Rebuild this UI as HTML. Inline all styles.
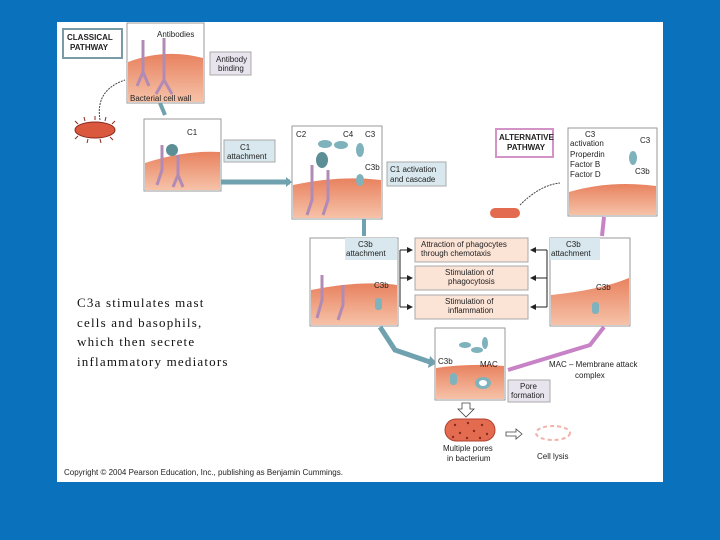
<!DOCTYPE html>
<html><head><meta charset="utf-8"><style>
body{margin:0;width:720px;height:540px;background:#0a72bd;overflow:hidden;position:relative}
svg{position:absolute;left:0;top:0}
.s{font-family:"Liberation Sans",sans-serif;font-size:8px;fill:#222}
</style></head><body>
<svg width="720" height="540" viewBox="0 0 720 540">
<defs>
<linearGradient id="cell" x1="0" y1="0" x2="0" y2="1"><stop offset="0" stop-color="#e8825f"/><stop offset="1" stop-color="#f6c2a8"/></linearGradient>
<marker id="ah" markerWidth="6" markerHeight="6" refX="5" refY="3" orient="auto"><path d="M0,0L6,3L0,6z" fill="#222"/></marker>
</defs>
<rect x="57" y="22" width="606" height="460" fill="#fff"/>
<rect x="63" y="29" width="59" height="29" fill="#fff" stroke="#7a9aa6" stroke-width="2"/>
<text x="67" y="40" class="s" font-weight="bold" font-size="7">CLASSICAL</text>
<text x="70" y="50" class="s" font-weight="bold" font-size="7">PATHWAY</text>
<rect x="127" y="23" width="77" height="80" fill="#fff" stroke="#999"/>
<path d="M128,62 Q165,48 203,58 L203,102 L128,102z" fill="url(#cell)"/>
<path d="M143,40v32l-6,14M143,72l6,14M164,38v42l-8,14M164,80l8,14" stroke="#b18bb5" stroke-width="3" fill="none"/>
<text x="157" y="37" class="s">Antibodies</text>
<text x="130" y="101" class="s">Bacterial cell wall</text>
<rect x="210" y="52" width="41" height="23" fill="#e8e4ee" stroke="#aaa"/>
<text x="216" y="62" class="s">Antibody</text><text x="218" y="71" class="s">binding</text>
<ellipse cx="95" cy="130" rx="20" ry="8" fill="#d9583e" stroke="#8a2a20"/>
<path d="M78,124l-3,-3M85,121l-1,-4M95,120v-4M105,121l1,-4M112,124l3,-3M78,136l-3,3M88,139l-1,4M100,139l1,4M110,137l3,3" stroke="#8a2a20"/>
<path d="M100,120 Q95,90 125,80" stroke="#444" fill="none" stroke-dasharray="2,1"/>
<path d="M160,103 L165,115" stroke="#6fa2ae" stroke-width="4"/>
<rect x="144" y="119" width="77" height="72" fill="#fff" stroke="#999"/>
<path d="M145,163 Q185,150 220,152 L220,190 L145,190z" fill="url(#cell)"/>
<path d="M162,145v25l-5,15M178,155v20l-5,12M178,175l5,12" stroke="#b18bb5" stroke-width="3" fill="none"/>
<circle cx="172" cy="150" r="6" fill="#5c8e96"/>
<text x="187" y="135" class="s">C1</text>
<rect x="224" y="140" width="51" height="22" fill="#d8e8ee" stroke="#aaa"/>
<text x="240" y="150" class="s">C1</text><text x="227" y="159" class="s">attachment</text>
<path d="M221,182 L290,182" stroke="#6fa2ae" stroke-width="5"/>
<path d="M286,177 L292,182 L286,187z" fill="#6fa2ae"/>
<rect x="292" y="126" width="90" height="93" fill="#fff" stroke="#999"/>
<path d="M293,185 Q340,175 381,180 L381,218 L293,218z" fill="url(#cell)"/>
<path d="M312,165v35l-5,15M328,170v30l-5,15" stroke="#b18bb5" stroke-width="3" fill="none"/>
<ellipse cx="322" cy="160" rx="6" ry="8" fill="#5c8e96"/>
<ellipse cx="325" cy="144" rx="7" ry="4" fill="#7eb2bc"/><ellipse cx="341" cy="145" rx="7" ry="4" fill="#7eb2bc"/><ellipse cx="360" cy="150" rx="4" ry="7" fill="#7eb2bc"/><ellipse cx="360" cy="180" rx="4" ry="6" fill="#7eb2bc"/>
<text x="296" y="137" class="s">C2</text><text x="343" y="137" class="s">C4</text><text x="365" y="137" class="s">C3</text><text x="365" y="170" class="s">C3b</text>
<rect x="387" y="162" width="59" height="24" fill="#d8e8ee" stroke="#aaa"/>
<text x="390" y="172" class="s">C1 activation</text><text x="390" y="182" class="s">and cascade</text>
<path d="M364,219 L364,236" stroke="#6fa2ae" stroke-width="4"/>
<rect x="496" y="129" width="57" height="28" fill="#fff" stroke="#d493c8" stroke-width="2"/>
<text x="499" y="140" class="s" font-weight="bold" font-size="7">ALTERNATIVE</text>
<text x="507" y="150" class="s" font-weight="bold" font-size="7">PATHWAY</text>
<rect x="568" y="128" width="89" height="88" fill="#fff" stroke="#999"/>
<path d="M569,192 Q610,180 656,186 L656,215 L569,215z" fill="url(#cell)"/>
<text x="585" y="137" class="s">C3</text><text x="570" y="146" class="s">activation</text><text x="570" y="157" class="s">Properdin</text><text x="570" y="167" class="s">Factor B</text><text x="570" y="177" class="s">Factor D</text>
<text x="640" y="143" class="s">C3</text><text x="635" y="174" class="s">C3b</text>
<ellipse cx="633" cy="158" rx="4" ry="7" fill="#7eb2bc"/>
<rect x="490" y="208" width="30" height="10" rx="5" fill="#e36b4f"/>
<path d="M520,205 Q540,185 560,183" stroke="#444" fill="none" stroke-dasharray="2,1"/>
<path d="M604,217 L602,236" stroke="#c783c6" stroke-width="4"/>
<rect x="310" y="238" width="88" height="88" fill="#fff" stroke="#999"/>
<path d="M311,290 Q360,280 397,285 L397,325 L311,325z" fill="url(#cell)"/>
<path d="M322,275v25l-5,18M343,285v20l-5,15" stroke="#b18bb5" stroke-width="3" fill="none"/>
<rect x="375" y="298" width="7" height="12" rx="3" fill="#7eb2bc"/>
<rect x="345" y="238" width="52" height="22" fill="#d8e8ee"/>
<text x="358" y="247" class="s">C3b</text><text x="346" y="256" class="s">attachment</text>
<text x="374" y="288" class="s">C3b</text>
<rect x="550" y="238" width="80" height="88" fill="#fff" stroke="#999"/>
<path d="M551,295 Q600,290 629,278 L629,325 L551,325z" fill="url(#cell)"/>
<rect x="550" y="238" width="50" height="22" fill="#d8e8ee"/>
<text x="566" y="247" class="s">C3b</text><text x="551" y="256" class="s">attachment</text>
<text x="596" y="290" class="s">C3b</text>
<rect x="592" y="302" width="7" height="12" rx="3" fill="#7eb2bc"/>
<g fill="#fbe3d6" stroke="#aaa">
<rect x="415" y="238" width="113" height="24"/><rect x="415" y="266" width="113" height="24"/><rect x="415" y="295" width="113" height="24"/></g>
<text x="421" y="247" class="s">Attraction of phagocytes</text><text x="421" y="256" class="s">through chemotaxis</text>
<text x="445" y="275" class="s">Stimulation of</text><text x="448" y="284" class="s">phagocytosis</text>
<text x="445" y="304" class="s">Stimulation of</text><text x="448" y="313" class="s">inflammation</text>
<g stroke="#222" fill="none">
<path d="M400,250V307"/><path d="M547,250V307"/>
<path d="M400,250h12" marker-end="url(#ah)"/><path d="M400,278h12" marker-end="url(#ah)"/><path d="M400,307h12" marker-end="url(#ah)"/>
<path d="M547,250h-16" marker-end="url(#ah)"/><path d="M547,278h-16" marker-end="url(#ah)"/><path d="M547,307h-16" marker-end="url(#ah)"/>
</g>
<path d="M380,327 L395,350 L430,362" stroke="#6fa2ae" stroke-width="5" fill="none"/>
<path d="M430,356 L437,363 L428,368z" fill="#6fa2ae"/>
<path d="M604,327 L590,345 L508,370" stroke="#c783c6" stroke-width="4" fill="none"/>
<rect x="435" y="328" width="70" height="72" fill="#fff" stroke="#999"/>
<path d="M436,368 Q470,363 504,366 L504,399 L436,399z" fill="url(#cell)"/>
<ellipse cx="483" cy="383" rx="8" ry="6" fill="#7eb2bc"/><ellipse cx="483" cy="383" rx="4" ry="3" fill="#fff"/>
<rect x="450" y="373" width="7" height="12" rx="3" fill="#7eb2bc"/>
<ellipse cx="465" cy="345" rx="6" ry="3" fill="#7eb2bc"/><ellipse cx="477" cy="350" rx="6" ry="3" fill="#7eb2bc"/><ellipse cx="485" cy="343" rx="3" ry="6" fill="#7eb2bc"/>
<text x="438" y="364" class="s">C3b</text><text x="480" y="367" class="s">MAC</text>
<rect x="508" y="380" width="42" height="22" fill="#e8e4ee" stroke="#aaa"/>
<text x="520" y="389" class="s">Pore</text><text x="511" y="398" class="s">formation</text>
<text x="549" y="367" class="s">MAC – Membrane attack</text><text x="575" y="378" class="s">complex</text>
<path d="M462,403h8v6h4l-8,8l-8,-8h4z" fill="#fff" stroke="#444" stroke-width="0.8"/>
<rect x="445" y="419" width="50" height="22" rx="11" fill="#e36b4f" stroke="#b04030"/>
<g fill="#8a2a20"><circle cx="455" cy="425" r="1.2"/><circle cx="468" cy="423" r="1.2"/><circle cx="482" cy="425" r="1.2"/><circle cx="460" cy="433" r="1.2"/><circle cx="474" cy="431" r="1.2"/><circle cx="487" cy="434" r="1.2"/><circle cx="453" cy="437" r="1.2"/><circle cx="467" cy="438" r="1.2"/><circle cx="480" cy="438" r="1.2"/></g>
<path d="M506,432h10v-3l6,5l-6,5v-3h-10z" fill="#fff" stroke="#444" stroke-width="0.8"/>
<ellipse cx="553" cy="433" rx="17" ry="7" fill="none" stroke="#f0b3aa" stroke-width="2" stroke-dasharray="4,3"/>
<text x="443" y="451" class="s">Multiple pores</text><text x="447" y="461" class="s">in bacterium</text>
<text x="537" y="459" class="s">Cell lysis</text>
<text x="64" y="475" class="s" font-size="6">Copyright © 2004 Pearson Education, Inc., publishing as Benjamin Cummings.</text>
<g font-family="Liberation Serif,serif" font-size="13" fill="#111" letter-spacing="1.2">
<text x="77" y="307">C3a stimulates mast</text><text x="77" y="327">cells and basophils,</text><text x="77" y="346">which then secrete</text><text x="77" y="366">inflammatory mediators</text></g>
</svg>
</body></html>
